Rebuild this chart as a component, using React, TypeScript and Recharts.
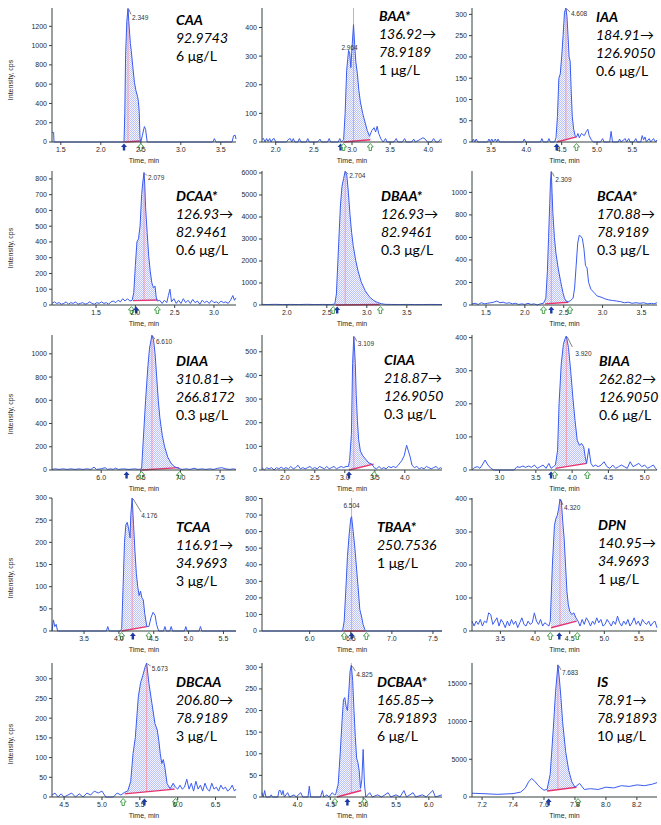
import React from 'react';
import { ComposedChart, XAxis, YAxis, Line, Area, Scatter } from 'recharts';

type Pt = [number, number];

// ---------------- traces: [time (min), intensity (cps)] ----------------
const caaTrace: Pt[] = [[1.39,100],[1.41,100],[1.415,0],[2.29,0],[2.30,300],[2.31,900],[2.325,1250],[2.34,1385],[2.35,1250],[2.36,1130],[2.37,1020],[2.38,950],[2.40,780],[2.42,620],[2.44,530],[2.46,470],[2.47,420],[2.48,320],[2.49,40],[2.50,0],[2.52,70],[2.545,160],[2.56,130],[2.58,0],[3.40,0],[3.42,35],[3.44,0],[3.64,0],[3.66,65],[3.68,70],[3.69,30]];
const baaTrace: Pt[] = [[1.82,10],[1.84,12],[1.86,0],[1.88,12],[1.90,2],[1.92,12],[1.94,0],[1.96,10],[1.98,12],[2.00,0],[2.14,0],[2.17,10],[2.19,12],[2.21,0],[2.23,12],[2.25,0],[2.29,0],[2.31,12],[2.33,0],[2.40,0],[2.42,12],[2.44,0],[2.55,0],[2.58,10],[2.60,0],[2.68,0],[2.70,12],[2.72,0],[2.82,0],[2.84,12],[2.86,0],[2.89,8],[2.91,100],[2.93,250],[2.955,320],[2.97,310],[2.985,260],[3.00,330],[3.02,410],[3.035,340],[3.05,280],[3.07,240],[3.09,180],[3.11,140],[3.14,100],[3.17,70],[3.20,40],[3.23,20],[3.26,40],[3.29,50],[3.31,35],[3.33,55],[3.35,30],[3.38,10],[3.41,0],[3.44,12],[3.46,0],[3.55,0],[3.58,12],[3.60,0],[3.66,0],[3.69,12],[3.71,0],[3.78,0],[3.81,10],[3.83,0],[3.90,10],[3.93,15],[3.96,10],[3.99,0],[4.04,0],[4.07,12],[4.10,0],[4.13,0],[4.16,10],[4.18,5]];
const iaaTrace: Pt[] = [[3.23,0],[3.25,7],[3.27,0],[3.29,7],[3.31,0],[3.45,0],[3.47,7],[3.49,0],[3.51,7],[3.53,0],[3.56,7],[3.58,0],[3.60,7],[3.62,0],[3.95,0],[3.97,7],[3.99,0],[4.20,0],[4.22,8],[4.24,0],[4.30,0],[4.32,8],[4.34,0],[4.40,0],[4.42,10],[4.44,60],[4.46,150],[4.48,160],[4.50,200],[4.52,250],[4.54,305],[4.56,315],[4.575,295],[4.59,250],[4.605,200],[4.62,190],[4.635,120],[4.65,60],[4.67,30],[4.69,15],[4.71,12],[4.73,20],[4.75,10],[4.78,20],[4.82,15],[4.85,25],[4.87,30],[4.89,15],[4.92,5],[4.95,0],[5.05,0],[5.08,8],[5.10,0],[5.18,0],[5.20,25],[5.22,0],[5.30,0],[5.32,7],[5.34,0],[5.40,8],[5.42,0],[5.45,8],[5.47,0],[5.52,0],[5.55,8],[5.57,0],[5.62,0],[5.64,15],[5.66,5],[5.68,12],[5.70,0],[5.74,8],[5.76,0],[5.80,8],[5.83,0],[5.85,5]];
const dcaaTrace: Pt[] = [[0.94,10],[0.97,20],[1.00,10],[1.03,15],[1.06,5],[1.09,10],[1.12,20],[1.15,5],[1.18,15],[1.21,10],[1.24,20],[1.27,5],[1.30,10],[1.33,15],[1.36,5],[1.39,10],[1.42,20],[1.45,10],[1.48,5],[1.51,15],[1.54,10],[1.57,20],[1.60,10],[1.63,15],[1.66,5],[1.69,20],[1.72,25],[1.75,15],[1.78,30],[1.81,20],[1.84,40],[1.87,25],[1.90,40],[1.93,25],[1.96,30],[1.98,80],[2.00,250],[2.02,400],[2.04,420],[2.06,500],[2.08,700],[2.095,780],[2.11,840],[2.12,760],[2.13,620],[2.15,460],[2.17,310],[2.19,210],[2.21,140],[2.23,110],[2.25,120],[2.265,50],[2.28,25],[2.31,30],[2.34,10],[2.37,30],[2.40,15],[2.42,60],[2.44,100],[2.46,20],[2.49,40],[2.52,10],[2.55,30],[2.58,10],[2.61,40],[2.64,15],[2.67,30],[2.70,10],[2.73,35],[2.76,15],[2.79,25],[2.82,5],[2.85,30],[2.88,15],[2.91,25],[2.94,10],[2.97,30],[3.00,15],[3.03,20],[3.06,10],[3.09,25],[3.12,15],[3.15,20],[3.18,10],[3.21,30],[3.24,60],[3.26,30],[3.28,45]];
const dbaaTrace: Pt[] = [[1.69,30],[1.75,20],[1.85,30],[1.95,20],[2.05,25],[2.15,20],[2.25,30],[2.35,20],[2.45,25],[2.55,20],[2.60,40],[2.62,500],[2.645,2500],[2.67,4500],[2.69,5400],[2.71,5750],[2.73,6080],[2.75,5900],[2.77,5100],[2.79,4100],[2.81,3300],[2.83,2700],[2.86,2050],[2.89,1550],[2.93,1050],[2.98,650],[3.03,380],[3.08,220],[3.13,120],[3.18,60],[3.23,30],[3.30,25],[3.40,20],[3.50,25],[3.60,20],[3.70,20],[3.80,25],[3.94,20]];
const bcaaTrace: Pt[] = [[1.32,10],[1.36,15],[1.40,5],[1.44,20],[1.48,10],[1.52,15],[1.56,20],[1.60,25],[1.64,35],[1.68,20],[1.72,25],[1.76,15],[1.80,20],[1.84,10],[1.88,15],[1.92,5],[1.96,10],[2.00,5],[2.04,15],[2.08,5],[2.12,10],[2.16,0],[2.20,10],[2.24,15],[2.27,60],[2.29,300],[2.305,600],[2.32,900],[2.33,1100],[2.34,1185],[2.35,1000],[2.36,820],[2.38,600],[2.40,460],[2.43,320],[2.46,210],[2.49,110],[2.51,60],[2.53,35],[2.56,30],[2.59,40],[2.62,60],[2.64,150],[2.66,350],[2.68,550],[2.70,620],[2.72,610],[2.74,590],[2.76,500],[2.78,350],[2.80,330],[2.82,200],[2.85,140],[2.89,110],[2.93,80],[2.98,70],[3.03,55],[3.08,45],[3.13,40],[3.18,35],[3.23,30],[3.28,20],[3.33,25],[3.38,15],[3.43,20],[3.48,15],[3.53,20],[3.58,10],[3.63,15],[3.66,10],[3.70,20]];
const diaaTrace: Pt[] = [[5.38,5],[5.42,10],[5.47,5],[5.52,10],[5.57,5],[5.62,10],[5.67,5],[5.72,10],[5.77,5],[5.82,10],[5.87,5],[5.91,25],[5.94,5],[6.00,10],[6.05,20],[6.08,5],[6.12,10],[6.15,5],[6.18,15],[6.22,5],[6.28,10],[6.35,5],[6.42,10],[6.47,5],[6.51,10],[6.53,250],[6.56,600],[6.59,900],[6.61,1050],[6.64,1160],[6.66,1120],[6.68,1000],[6.70,800],[6.72,600],[6.74,450],[6.77,300],[6.80,200],[6.84,110],[6.88,60],[6.92,30],[6.97,15],[7.02,5],[7.07,10],[7.12,5],[7.17,15],[7.22,5],[7.27,10],[7.32,5],[7.37,10],[7.42,5],[7.47,15],[7.52,20],[7.57,10],[7.62,5],[7.67,10],[7.70,5]];
const ciaaTrace: Pt[] = [[1.62,10],[1.66,0],[1.70,10],[1.74,5],[1.78,10],[1.82,0],[1.86,10],[1.90,5],[1.94,12],[1.98,5],[2.02,10],[2.06,5],[2.10,15],[2.14,5],[2.18,10],[2.22,20],[2.26,5],[2.30,10],[2.34,5],[2.38,10],[2.42,15],[2.46,5],[2.50,10],[2.54,5],[2.58,15],[2.62,10],[2.66,5],[2.70,15],[2.74,5],[2.78,10],[2.82,15],[2.86,5],[2.90,10],[2.94,15],[2.98,10],[3.02,15],[3.06,15],[3.08,40],[3.11,150],[3.13,450],[3.15,565],[3.16,520],[3.175,450],[3.19,320],[3.21,210],[3.23,130],[3.26,80],[3.30,60],[3.35,45],[3.40,30],[3.45,25],[3.49,10],[3.53,5],[3.57,15],[3.61,5],[3.65,10],[3.69,5],[3.73,15],[3.77,10],[3.81,15],[3.85,10],[3.89,20],[3.92,30],[3.95,40],[3.99,60],[4.03,105],[4.06,80],[4.09,55],[4.12,20],[4.16,10],[4.20,15],[4.24,5],[4.28,10],[4.32,5],[4.36,15],[4.40,10],[4.44,5],[4.48,10],[4.52,15],[4.56,5],[4.60,10],[4.62,5]];
const biaaTrace: Pt[] = [[2.62,0],[2.66,8],[2.70,10],[2.73,5],[2.76,15],[2.80,30],[2.84,15],[2.88,5],[2.92,0],[3.20,0],[3.24,10],[3.28,8],[3.32,12],[3.36,8],[3.40,12],[3.44,8],[3.48,15],[3.52,5],[3.56,10],[3.60,15],[3.64,5],[3.68,20],[3.71,5],[3.74,10],[3.77,15],[3.80,60],[3.82,200],[3.85,320],[3.88,380],[3.90,395],[3.92,405],[3.95,370],[3.98,300],[4.01,220],[4.04,150],[4.07,90],[4.10,75],[4.13,80],[4.16,70],[4.18,40],[4.20,20],[4.23,65],[4.26,20],[4.29,10],[4.32,15],[4.36,10],[4.40,15],[4.44,25],[4.48,10],[4.52,5],[4.56,15],[4.60,5],[4.64,10],[4.68,15],[4.72,10],[4.76,5],[4.80,25],[4.84,10],[4.88,15],[4.92,20],[4.96,10],[5.00,15],[5.04,5],[5.08,10],[5.12,15],[5.15,5],[5.17,0]];
const tcaaTrace: Pt[] = [[3.04,0],[3.06,25],[3.08,10],[3.10,15],[3.12,0],[3.82,0],[3.84,10],[3.86,0],[4.02,0],[4.04,5],[4.06,100],[4.08,200],[4.10,240],[4.12,245],[4.14,230],[4.16,210],[4.17,260],[4.19,300],[4.21,240],[4.23,180],[4.25,130],[4.27,100],[4.29,80],[4.31,90],[4.33,75],[4.35,70],[4.37,40],[4.40,10],[4.43,10],[4.46,30],[4.49,42],[4.52,35],[4.54,15],[4.57,0],[4.64,0],[4.66,10],[4.68,0],[4.73,0],[4.75,10],[4.77,0],[4.94,0],[4.96,10],[4.98,0],[5.15,0],[5.17,10],[5.19,0],[5.68,0]];
const tbaaTrace: Pt[] = [[5.42,0],[6.40,0],[6.42,60],[6.44,250],[6.46,450],[6.48,580],[6.50,680],[6.51,690],[6.53,600],[6.55,500],[6.57,380],[6.59,260],[6.61,130],[6.63,90],[6.65,40],[6.67,10],[6.69,0],[7.61,0]];
const dpnTrace: Pt[] = [[3.09,30],[3.12,15],[3.15,30],[3.18,20],[3.21,35],[3.24,15],[3.27,30],[3.30,25],[3.33,55],[3.36,50],[3.39,20],[3.42,30],[3.45,40],[3.48,15],[3.51,35],[3.54,25],[3.57,10],[3.60,30],[3.63,15],[3.66,35],[3.69,20],[3.72,30],[3.75,10],[3.78,25],[3.81,40],[3.84,20],[3.87,15],[3.90,30],[3.93,20],[3.96,25],[3.99,55],[4.02,30],[4.05,20],[4.08,35],[4.11,15],[4.14,25],[4.17,20],[4.20,15],[4.22,30],[4.25,200],[4.28,320],[4.30,340],[4.32,350],[4.34,370],[4.36,400],[4.38,390],[4.40,330],[4.42,280],[4.44,200],[4.46,120],[4.48,80],[4.50,60],[4.53,50],[4.56,55],[4.59,40],[4.62,30],[4.65,15],[4.68,35],[4.71,20],[4.74,40],[4.77,30],[4.80,15],[4.83,30],[4.86,20],[4.89,40],[4.92,25],[4.95,35],[4.98,15],[5.01,20],[5.04,35],[5.07,25],[5.10,15],[5.13,30],[5.16,20],[5.19,45],[5.22,25],[5.25,15],[5.28,30],[5.31,20],[5.34,35],[5.37,15],[5.40,25],[5.43,40],[5.46,20],[5.49,30],[5.52,15],[5.55,35],[5.58,25],[5.61,20],[5.64,30],[5.67,15],[5.70,25],[5.73,30],[5.76,10]];
const dbcaaTrace: Pt[] = [[4.34,5],[4.38,10],[4.42,0],[4.46,8],[4.50,0],[4.55,5],[4.60,10],[4.65,0],[4.70,8],[4.75,0],[4.80,10],[4.85,5],[4.90,15],[4.95,10],[5.00,15],[5.05,0],[5.15,0],[5.20,10],[5.25,5],[5.30,12],[5.34,15],[5.38,40],[5.41,110],[5.44,150],[5.48,254],[5.51,290],[5.54,309],[5.57,330],[5.59,340],[5.62,288],[5.66,237],[5.70,186],[5.73,170],[5.75,144],[5.77,110],[5.79,85],[5.81,95],[5.83,76],[5.86,34],[5.90,21],[5.94,35],[5.97,25],[6.00,20],[6.03,30],[6.06,20],[6.09,25],[6.12,45],[6.15,20],[6.18,35],[6.21,15],[6.24,40],[6.27,20],[6.30,30],[6.33,15],[6.36,35],[6.39,20],[6.42,15],[6.45,35],[6.48,20],[6.51,25],[6.54,15],[6.57,30],[6.60,20],[6.63,25],[6.66,15],[6.69,20],[6.72,30],[6.75,15],[6.77,20]];
const dcbaaTrace: Pt[] = [[3.46,10],[3.48,0],[3.50,15],[3.52,0],[3.58,0],[3.60,5],[3.62,0],[3.70,0],[3.72,15],[3.74,15],[3.76,5],[3.78,15],[3.80,0],[3.85,10],[3.88,0],[3.95,5],[3.98,0],[4.05,10],[4.08,0],[4.16,0],[4.18,25],[4.20,0],[4.35,0],[4.38,15],[4.40,0],[4.45,5],[4.48,0],[4.53,10],[4.56,5],[4.58,5],[4.62,30],[4.65,100],[4.68,180],[4.70,225],[4.72,230],[4.74,210],[4.76,200],[4.78,240],[4.80,290],[4.82,305],[4.84,270],[4.86,200],[4.88,140],[4.90,90],[4.92,80],[4.94,60],[4.96,20],[4.98,40],[5.00,110],[5.02,30],[5.04,0],[5.10,10],[5.14,0],[5.22,5],[5.28,0],[5.38,10],[5.42,0],[5.50,5],[5.56,0],[5.62,15],[5.66,0],[5.76,10],[5.80,0],[5.90,5],[5.96,0],[6.06,15],[6.10,0],[6.20,5]];
const isTrace: Pt[] = [[7.135,500],[7.2,450],[7.3,350],[7.40,450],[7.45,650],[7.48,1200],[7.50,2000],[7.52,2450],[7.54,2100],[7.56,1600],[7.58,1200],[7.60,900],[7.62,1000],[7.64,3000],[7.66,9000],[7.675,14000],[7.69,17500],[7.70,15500],[7.71,13000],[7.72,10000],[7.74,6000],[7.76,3500],[7.78,2000],[7.80,1300],[7.83,1800],[7.86,1000],[7.90,1100],[7.95,1000],[8.0,1300],[8.05,1200],[8.1,1500],[8.15,1400],[8.2,1600],[8.25,1500],[8.3,1700],[8.33,1900]];

// ---------------- tick labels ----------------
const caaX = [1.5, 2.0, 2.5, 3.0, 3.5];
const caaY = [0, 200, 400, 600, 800, 1000, 1200];
const baaX = [2.0, 2.5, 3.0, 3.5, 4.0];
const baaY = [0, 100, 200, 300, 400];
const iaaX = [3.5, 4.0, 4.5, 5.0, 5.5];
const iaaY = [0, 50, 100, 150, 200, 250, 300];
const dcaaX = [1.5, 2.0, 2.5, 3.0];
const dcaaY = [0, 100, 200, 300, 400, 500, 600, 700, 800];
const dbaaX = [2.0, 2.5, 3.0, 3.5];
const dbaaY = [0, 1000, 2000, 3000, 4000, 5000, 6000];
const bcaaX = [1.5, 2.0, 2.5, 3.0, 3.5];
const bcaaY = [0, 200, 400, 600, 800, 1000];
const diaaX = [6.0, 6.5, 7.0, 7.5];
const diaaY = [0, 200, 400, 600, 800, 1000];
const ciaaX = [2.0, 2.5, 3.0, 3.5, 4.0];
const ciaaY = [0, 100, 200, 300, 400, 500];
const biaaX = [3.0, 3.5, 4.0, 4.5, 5.0];
const biaaY = [0, 100, 200, 300, 400];
const tcaaX = [3.5, 4.0, 4.5, 5.0, 5.5];
const tcaaY = [0, 50, 100, 150, 200, 250, 300];
const tbaaX = [6.0, 6.5, 7.0, 7.5];
const tbaaY = [0, 100, 200, 300, 400, 500, 600, 700, 800];
const dpnX = [3.5, 4.0, 4.5, 5.0, 5.5];
const dpnY = [0, 100, 200, 300, 400];
const dbcaaX = [4.5, 5.0, 5.5, 6.0, 6.5];
const dbcaaY = [0, 50, 100, 150, 200, 250, 300];
const dcbaaX = [4.0, 4.5, 5.0, 5.5, 6.0];
const dcbaaY = [0, 50, 100, 150, 200, 250, 300];
const isX = [7.2, 7.4, 7.6, 7.8, 8.0, 8.2];
const isY = [0, 5000, 10000, 15000];

type Mk = { t: number; k: 'b' | 'g' };
type Lab = { dx: number; dy: number; anchor: 'start' | 'middle'; leader?: [number, number] };
interface Cfg {
  id: string; title: string; mz: string[]; conc: string;
  trace: Pt[]; xDomain: [number, number]; xTicks: number[]; yTop: number; yTicks: number[];
  win: [number, number]; base: [number, number]; apex: Pt; apexLabel: string; pinkTop?: number;
  markers: Mk[]; lab: Lab; col: number; row: number; tx: number; ty: number;
}

const panels: Cfg[] = [
  { id: 'caa', title: 'CAA', mz: ['92.9743'], conc: '6 μg/L', trace: caaTrace, xDomain: [1.39, 3.69], xTicks: caaX, yTop: 1390, yTicks: caaY,
    win: [2.295, 2.49], base: [0, 10], apex: [2.34, 1385], apexLabel: '2.349', markers: [{ t: 2.29, k: 'b' }, { t: 2.5, k: 'g' }],
    lab: { dx: 4, dy: 12, anchor: 'start', leader: [3, 6] }, col: 0, row: 0, tx: 176, ty: 20 },
  { id: 'baa', title: 'BAA*', mz: ['136.92→', '78.9189'], conc: '1 μg/L', trace: baaTrace, xDomain: [1.82, 4.18], xTicks: baaX, yTop: 468, yTicks: baaY,
    win: [2.89, 3.24], base: [0, 8], apex: [3.02, 410], apexLabel: '2.964', pinkTop: 468, markers: [{ t: 2.85, k: 'b' }, { t: 2.89, k: 'g' }, { t: 3.24, k: 'g' }],
    lab: { dx: -4, dy: 25, anchor: 'middle' }, col: 1, row: 0, tx: 379, ty: 16 },
  { id: 'iaa', title: 'IAA', mz: ['184.91→', '126.9050'], conc: '0.6 μg/L', trace: iaaTrace, xDomain: [3.23, 5.85], xTicks: iaaX, yTop: 315, yTicks: iaaY,
    win: [4.43, 4.71], base: [0, 12], apex: [4.56, 315], apexLabel: '4.608', markers: [{ t: 4.43, k: 'b' }, { t: 4.71, k: 'g' }],
    lab: { dx: 5, dy: 8, anchor: 'start', leader: [4, 4] }, col: 2, row: 0, tx: 596, ty: 17 },
  { id: 'dcaa', title: 'DCAA*', mz: ['126.93→', '82.9461'], conc: '0.6 μg/L', trace: dcaaTrace, xDomain: [0.94, 3.28], xTicks: dcaaX, yTop: 850, yTicks: dcaaY,
    win: [1.97, 2.28], base: [28, 32], apex: [2.11, 840], apexLabel: '2.079', markers: [{ t: 1.95, k: 'g' }, { t: 2.01, k: 'b' }, { t: 2.28, k: 'g' }],
    lab: { dx: 4, dy: 7, anchor: 'start', leader: [3, 3] }, col: 0, row: 1, tx: 176, ty: 196 },
  { id: 'dbaa', title: 'DBAA*', mz: ['126.93→', '82.9461'], conc: '0.3 μg/L', trace: dbaaTrace, xDomain: [1.69, 3.94], xTicks: dbaaX, yTop: 6090, yTicks: dbaaY,
    win: [2.61, 3.16], base: [0, 20], apex: [2.73, 6080], apexLabel: '2.704', markers: [{ t: 2.58, k: 'g' }, { t: 2.63, k: 'b' }, { t: 3.17, k: 'g' }],
    lab: { dx: 4, dy: 7, anchor: 'start', leader: [3, 3] }, col: 1, row: 1, tx: 381, ty: 196 },
  { id: 'bcaa', title: 'BCAA*', mz: ['170.88→', '78.9189'], conc: '0.3 μg/L', trace: bcaaTrace, xDomain: [1.32, 3.70], xTicks: bcaaX, yTop: 1190, yTicks: bcaaY,
    win: [2.26, 2.56], base: [10, 25], apex: [2.34, 1185], apexLabel: '2.309', markers: [{ t: 2.24, k: 'g' }, { t: 2.34, k: 'b' }, { t: 2.58, k: 'g' }],
    lab: { dx: 4, dy: 10, anchor: 'start', leader: [3, 5] }, col: 2, row: 1, tx: 597, ty: 196 },
  { id: 'diaa', title: 'DIAA', mz: ['310.81→', '266.8172'], conc: '0.3 μg/L', trace: diaaTrace, xDomain: [5.38, 7.70], xTicks: diaaX, yTop: 1162, yTicks: diaaY,
    win: [6.51, 6.98], base: [0, 20], apex: [6.64, 1160], apexLabel: '6.610', markers: [{ t: 6.32, k: 'b' }, { t: 6.51, k: 'g' }, { t: 6.99, k: 'g' }],
    lab: { dx: 4, dy: 9, anchor: 'start', leader: [3, 4] }, col: 0, row: 2, tx: 176, ty: 361 },
  { id: 'ciaa', title: 'CIAA', mz: ['218.87→', '126.9050'], conc: '0.3 μg/L', trace: ciaaTrace, xDomain: [1.62, 4.62], xTicks: ciaaX, yTop: 571, yTicks: ciaaY,
    win: [3.07, 3.48], base: [0, 25], apex: [3.15, 565], apexLabel: '3.109', markers: [{ t: 3.07, k: 'b' }, { t: 3.49, k: 'g' }],
    lab: { dx: 4, dy: 10, anchor: 'start', leader: [3, 5] }, col: 1, row: 2, tx: 384, ty: 360 },
  { id: 'biaa', title: 'BIAA', mz: ['262.82→', '126.9050'], conc: '0.6 μg/L', trace: biaaTrace, xDomain: [2.62, 5.17], xTicks: biaaX, yTop: 408, yTicks: biaaY,
    win: [3.77, 4.20], base: [5, 20], apex: [3.92, 405], apexLabel: '3.920', markers: [{ t: 3.71, k: 'b' }, { t: 3.76, k: 'g' }, { t: 4.21, k: 'g' }],
    lab: { dx: 9, dy: 20, anchor: 'start', leader: [6, 11] }, col: 2, row: 2, tx: 599, ty: 361 },
  { id: 'tcaa', title: 'TCAA', mz: ['116.91→', '34.9693'], conc: '3 μg/L', trace: tcaaTrace, xDomain: [3.04, 5.68], xTicks: tcaaX, yTop: 300, yTicks: tcaaY,
    win: [4.04, 4.40], base: [0, 10], apex: [4.19, 300], apexLabel: '4.176', markers: [{ t: 4.04, k: 'g' }, { t: 4.20, k: 'b' }, { t: 4.43, k: 'g' }],
    lab: { dx: 9, dy: 20, anchor: 'start', leader: [9, 14] }, col: 0, row: 3, tx: 176, ty: 527 },
  { id: 'tbaa', title: 'TBAA*', mz: ['250.7536'], conc: '1 μg/L', trace: tbaaTrace, xDomain: [5.42, 7.61], xTicks: tbaaX, yTop: 803, yTicks: tbaaY,
    win: [6.41, 6.68], base: [0, 0], apex: [6.51, 690], apexLabel: '6.504', pinkTop: 803, markers: [{ t: 6.42, k: 'g' }, { t: 6.51, k: 'b' }, { t: 6.69, k: 'g' }],
    lab: { dx: 0, dy: -9, anchor: 'middle' }, col: 1, row: 3, tx: 377, ty: 527 },
  { id: 'dpn', title: 'DPN', mz: ['140.95→', '34.9693'], conc: '1 μg/L', trace: dpnTrace, xDomain: [3.09, 5.76], xTicks: dpnX, yTop: 403, yTicks: dpnY,
    win: [4.23, 4.60], base: [10, 30], apex: [4.36, 400], apexLabel: '4.320', markers: [{ t: 4.22, k: 'g' }, { t: 4.35, k: 'b' }, { t: 4.61, k: 'g' }],
    lab: { dx: 4, dy: 11, anchor: 'start', leader: [3, 6] }, col: 2, row: 3, tx: 598, ty: 525 },
  { id: 'dbcaa', title: 'DBCAA', mz: ['206.80→', '78.9189'], conc: '3 μg/L', trace: dbcaaTrace, xDomain: [4.34, 6.77], xTicks: dbcaaX, yTop: 340, yTicks: dbcaaY,
    win: [5.30, 5.96], base: [8, 20], apex: [5.59, 340], apexLabel: '5.673', markers: [{ t: 5.28, k: 'g' }, { t: 5.56, k: 'b' }, { t: 5.97, k: 'g' }],
    lab: { dx: 5, dy: 8, anchor: 'start', leader: [4, 3] }, col: 0, row: 4, tx: 176, ty: 682 },
  { id: 'dcbaa', title: 'DCBAA*', mz: ['165.85→', '78.91893'], conc: '6 μg/L', trace: dcbaaTrace, xDomain: [3.46, 6.2], xTicks: dcbaaX, yTop: 310, yTicks: dcbaaY,
    win: [4.60, 4.97], base: [0, 15], apex: [4.82, 305], apexLabel: '4.825', pinkTop: 310, markers: [{ t: 4.57, k: 'g' }, { t: 4.76, k: 'b' }, { t: 5.02, k: 'g' }],
    lab: { dx: 5, dy: 12, anchor: 'start', leader: [4, 6] }, col: 1, row: 4, tx: 377, ty: 682 },
  { id: 'is', title: 'IS', mz: ['78.91→', '78.91893'], conc: '10 μg/L', trace: isTrace, xDomain: [7.135, 8.33], xTicks: isX, yTop: 17750, yTicks: isY,
    win: [7.62, 7.81], base: [800, 1300], apex: [7.69, 17500], apexLabel: '7.683', markers: [{ t: 7.63, k: 'b' }, { t: 7.82, k: 'g' }],
    lab: { dx: 4, dy: 10, anchor: 'start', leader: [3, 5] }, col: 2, row: 4, tx: 597, ty: 682 },
];

// ---------------- layout ----------------
const AXIS_X = [52, 262, 472];
const AXIS_R = [236, 442, 657];
const ROW_TOP = [8, 171, 335, 498, 663];
const ROW_AXIS = [142, 305, 470, 631, 797];
const ROW_YLABEL = [80, 248, 414, 578, 744];
const YW = 32, XH = 22, MT = 6, MR = 10;
const AXIS_COLOR = '#34403f';
const TRACE = '#3a5cf0';
const TICK_FONT = { fontSize: 7, fill: '#2a2a2a', fontFamily: 'Liberation Sans, Arial, sans-serif' };

function interp(tr: Pt[], t: number): number {
  for (let i = 0; i < tr.length - 1; i++) {
    const [t0, v0] = tr[i];
    const [t1, v1] = tr[i + 1];
    if (t >= t0 && t <= t1) return t1 === t0 ? v0 : v0 + (v1 - v0) * (t - t0) / (t1 - t0);
  }
  return 0;
}

const MarkerShape = (props: any) => {
  const { cx, cy, payload } = props;
  const y0 = cy + 1.5;
  const pts = `${cx},${y0} ${cx - 3},${y0 + 3.5} ${cx - 1.2},${y0 + 3.5} ${cx - 1.2},${y0 + 7} ${cx + 1.2},${y0 + 7} ${cx + 1.2},${y0 + 3.5} ${cx + 3},${y0 + 3.5}`;
  return payload.k === 'b'
    ? <polygon points={pts} fill="#1b3aa6" />
    : <polygon points={pts} fill="#ffffff" stroke="#3f9c45" strokeWidth={0.9} />;
};

function Panel({ p }: { p: Cfg }) {
  const ax = AXIS_X[p.col], ar = AXIS_R[p.col];
  const pt = ROW_TOP[p.row], pb = ROW_AXIS[p.row];
  const left = ax - YW, top = pt - MT;
  const width = ar - ax + YW + MR;
  const height = pb - pt + MT + XH;

  const lineData = p.trace.map(([t, v]) => ({ t, v }));
  const [a, b] = p.win;
  const bAt = (t: number) => p.base[0] + (p.base[1] - p.base[0]) * (t - a) / (b - a);
  const fillData: { t: number; r: [number, number] }[] = [];
  fillData.push({ t: a, r: [bAt(a), Math.max(bAt(a), interp(p.trace, a))] });
  p.trace.forEach(([t, v]) => { if (t > a && t < b) fillData.push({ t, r: [bAt(t), Math.max(v, bAt(t))] }); });
  fillData.push({ t: b, r: [bAt(b), Math.max(bAt(b), interp(p.trace, b))] });
  const baseData = [{ t: a, v: p.base[0] }, { t: b, v: p.base[1] }];
  const pinkData = [{ t: p.apex[0], v: bAt(p.apex[0]) }, { t: p.apex[0], v: p.pinkTop ?? p.apex[1] }];
  const markerData = p.markers.map((m) => ({ t: m.t, v: 0, k: m.k }));
  const apexData = [{ t: p.apex[0], v: p.apex[1] }];

  const LabelShape = (props: any) => {
    const { cx, cy } = props;
    return (
      <g>
        {p.lab.leader && <line x1={cx + 1} y1={cy + 1} x2={cx + p.lab.leader[0]} y2={cy + p.lab.leader[1]} stroke="#333" strokeWidth={0.6} />}
        <text x={cx + p.lab.dx} y={cy + p.lab.dy} fontSize={6.5} fill="#333" textAnchor={p.lab.anchor} fontFamily="Liberation Sans, Arial, sans-serif">{p.apexLabel}</text>
      </g>
    );
  };

  return (
    <div style={{ position: 'absolute', left, top, width, height }}>
      <ComposedChart width={width} height={height} margin={{ top: MT, right: MR, bottom: 0, left: 0 }}>
        <XAxis type="number" dataKey="t" domain={p.xDomain} ticks={p.xTicks} interval={0}
          tickFormatter={(v: number) => v.toFixed(1)} height={XH} tickSize={3} tick={TICK_FONT}
          stroke={AXIS_COLOR} />
        <YAxis type="number" dataKey="v" domain={[0, p.yTop]} ticks={p.yTicks} interval={0} width={YW}
          tickSize={3} tick={TICK_FONT} stroke={AXIS_COLOR} />
        <Area data={fillData} dataKey="r" type="linear" stroke="none" fill={`url(#hatch)`} isAnimationActive={false} />
        <Line data={pinkData} dataKey="v" type="linear" stroke="#f39ab4" strokeWidth={1} dot={false} isAnimationActive={false} />
        <Line data={baseData} dataKey="v" type="linear" stroke="#e6336f" strokeWidth={1.4} dot={false} isAnimationActive={false} />
        <Line data={lineData} dataKey="v" type="linear" stroke={TRACE} strokeWidth={1} dot={false} isAnimationActive={false} />
        <Scatter data={markerData} dataKey="v" shape={MarkerShape} isAnimationActive={false} />
        <Scatter data={apexData} dataKey="v" shape={LabelShape} isAnimationActive={false} />
      </ComposedChart>
    </div>
  );
}

function Annotation({ p }: { p: Cfg }) {
  return (
    <div style={{ position: 'absolute', left: p.tx, top: p.ty - 9, fontFamily: 'Lato, "Open Sans", sans-serif', fontSize: 14, lineHeight: '18px', color: '#000', whiteSpace: 'nowrap' }}>
      <div style={{ fontWeight: 700, fontStyle: 'italic' }}>{p.title}</div>
      {p.mz.map((s, i) => <div key={i} style={{ fontStyle: 'italic' }}>{s}</div>)}
      <div>{p.conc}</div>
    </div>
  );
}

export default function App() {
  return (
    <div style={{ position: 'absolute', left: 0, top: 0, width: 661, height: 825, background: '#fff', overflow: 'hidden' }}>
      <svg width={0} height={0} style={{ position: 'absolute' }}>
        <defs>
          <pattern id="hatch" width="2" height="2" patternUnits="userSpaceOnUse">
            <rect width="2" height="2" fill="#eceefe" />
            <rect x="0" y="0" width="1" height="1" fill="#8e9cee" />
            <rect x="1" y="1" width="1" height="1" fill="#8e9cee" />
          </pattern>
        </defs>
      </svg>
      {panels.map((p) => <Panel key={p.id} p={p} />)}
      {panels.map((p) => <Annotation key={p.id + 'a'} p={p} />)}
      {panels.map((p) => (
        <div key={p.id + 'x'} style={{ position: 'absolute', left: AXIS_X[p.col], width: AXIS_R[p.col] - AXIS_X[p.col], top: ROW_AXIS[p.row] + 14, textAlign: 'center', fontSize: 7, lineHeight: '9px', fontFamily: 'Liberation Sans, Arial, sans-serif', color: '#2a2a2a' }}>Time, min</div>
      ))}
      {ROW_YLABEL.map((y, i) => (
        <div key={'yl' + i} style={{ position: 'absolute', left: 10, top: y, width: 0, height: 0 }}>
          <div style={{ position: 'absolute', transform: 'translate(-50%, -50%) rotate(-90deg)', fontSize: 7, lineHeight: '9px', whiteSpace: 'nowrap', fontFamily: 'Liberation Sans, Arial, sans-serif', color: '#2a2a2a' }}>Intensity, cps</div>
        </div>
      ))}
    </div>
  );
}
